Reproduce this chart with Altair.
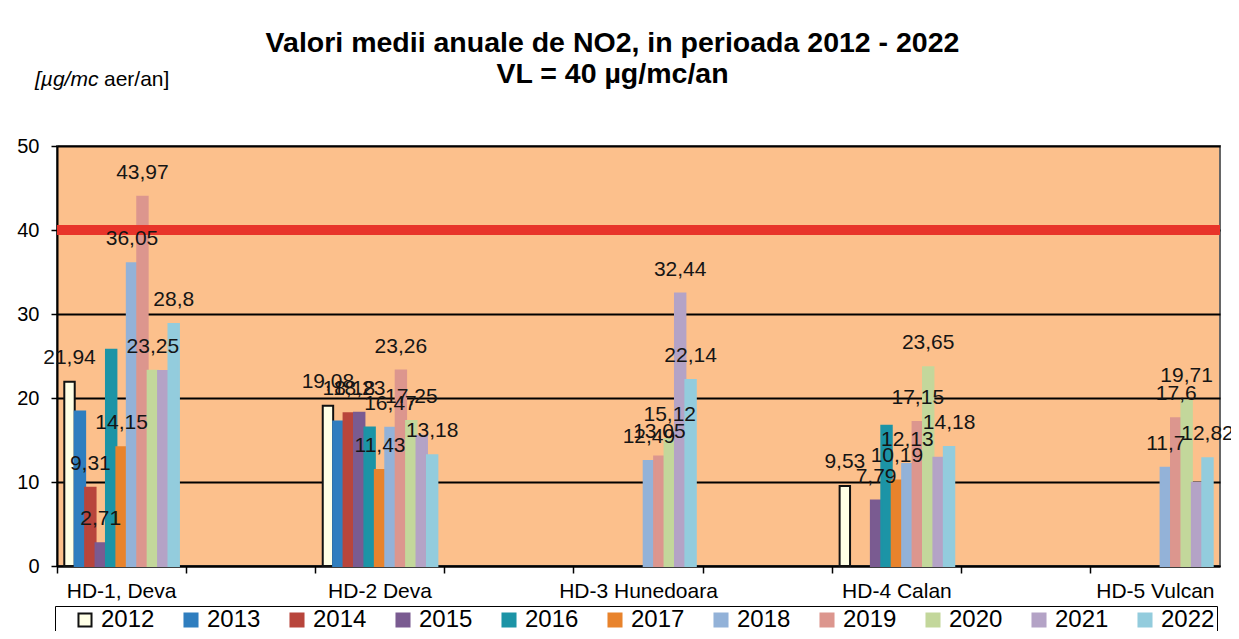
import altair as alt
import pandas as pd

# ---------------- data ----------------
stations = ["HD-1, Deva", "_1", "HD-2 Deva", "_2", "HD-3 Hunedoara", "_3",
            "HD-4 Calan", "_4", "HD-5 Vulcan"]
years = ["2012", "2013", "2014", "2015", "2016", "2017",
         "2018", "2019", "2020", "2021", "2022"]

hd1_values = [21.94, 18.4, 9.31, 2.71, 25.75, 14.15, 36.05, 43.97, 23.25, 23.2, 28.8]
hd1_labeled = [1, 0, 1, 1, 0, 1, 1, 1, 1, 0, 1]
hd2_values = [19.08, 17.2, 18.18, 18.23, 16.5, 11.43, 16.47, 23.26, 17.25, 15.5, 13.18]
hd2_labeled = [1, 0, 1, 1, 0, 1, 1, 1, 1, 0, 1]
hd3_values = [None, None, None, None, None, None, 12.49, 13.05, 15.12, 32.44, 22.14]
hd3_labeled = [0, 0, 0, 0, 0, 0, 1, 1, 1, 1, 1]
hd4_values = [9.53, None, None, 7.79, 16.7, 10.19, 12.13, 17.15, 23.65, 12.9, 14.18]
hd4_labeled = [1, 0, 0, 1, 0, 1, 1, 1, 1, 0, 1]
hd5_values = [None, None, None, None, None, None, 11.7, 17.6, 19.71, 9.9, 12.82]
hd5_labeled = [0, 0, 0, 0, 0, 0, 1, 1, 1, 0, 1]

limit_value = [40]
title_lines = ["Valori medii anuale de NO2, in perioada 2012 - 2022", "VL = 40 µg/mc/an"]
unit_parts = ["[µg/mc", "aer/an]"]

fill_colors = ["#FFFFE6", "#2F7EBF", "#B8453C", "#7A5B91", "#1C94A6", "#E8832C",
               "#93B2D8", "#DC968E", "#C3D79B", "#B4A3C6", "#93CCDD"]
stroke_colors = ["#111111"] + fill_colors[1:]

series = [
    ("HD-1, Deva", hd1_values, hd1_labeled),
    ("HD-2 Deva", hd2_values, hd2_labeled),
    ("HD-3 Hunedoara", hd3_values, hd3_labeled),
    ("HD-4 Calan", hd4_values, hd4_labeled),
    ("HD-5 Vulcan", hd5_values, hd5_labeled),
]

rows = []
for st, vals, flags in series:
    for yr, v, f in zip(years, vals, flags):
        if v is None:
            continue
        rows.append({"station": st, "year": yr, "value": v,
                     "label": (f"{v:g}".replace(".", ",") if f else "")})
df = pd.DataFrame(rows)

FONT = "Liberation Sans"
W, H = 1163, 420

x_enc = alt.X(
    "station:N",
    scale=alt.Scale(domain=stations, paddingInner=0, paddingOuter=0),
    axis=alt.Axis(
        title=None,
        labelExpr="indexof(datum.label, '_') == 0 ? '' : datum.label",
        bandPosition=0,
        labelAngle=0,
        labelFontSize=21,
        labelFont=FONT,
        labelColor="black",
        labelPadding=7,
        labelOverlap=False,
        labelBound=False,
        tickColor="black",
        tickSize=7,
        tickWidth=1.5,
        domainColor="black",
        domainWidth=2,
        grid=False,
    ),
)
xoff_enc = alt.XOffset("year:N", scale=alt.Scale(domain=years, paddingInner=0, paddingOuter=0.7))
y_enc = alt.Y(
    "value:Q",
    scale=alt.Scale(domain=[0, 50], nice=False),
    axis=alt.Axis(
        title=None,
        values=[0, 10, 20, 30, 40, 50],
        labelFontSize=20,
        labelFont=FONT,
        labelColor="black",
        labelPadding=12,
        tickColor="black",
        tickSize=6,
        tickWidth=1.5,
        domainColor="black",
        domainWidth=2,
        grid=True,
        gridColor="black",
        gridWidth=2,
    ),
)

legend = alt.Legend(
    title="0",
    titleOrient="left",
    titleColor="rgba(0,0,0,0)",
    titleFontSize=20,
    titlePadding=4,
    orient="none",
    legendX=-2,
    legendY=460,
    direction="horizontal",
    columns=11,
    symbolType="square",
    symbolSize=170,
    symbolStrokeWidth=2,
    symbolOpacity=1,
    labelFontSize=24,
    labelFont=FONT,
    labelColor="black",
    labelOffset=4,
    columnPadding=24,
    padding=2,
    strokeColor="black",
    fillColor="white",
)

bars = alt.Chart(df).mark_bar(strokeWidth=2, opacity=1).encode(
    x=x_enc,
    xOffset=xoff_enc,
    y=y_enc,
    fill=alt.Fill("year:N", scale=alt.Scale(domain=years, range=fill_colors), legend=legend),
    stroke=alt.Stroke("year:N", scale=alt.Scale(domain=years, range=stroke_colors), legend=legend),
)

limit = alt.Chart(pd.DataFrame({"v": limit_value})).mark_rule(
    color="#E8342A", strokeWidth=10
).encode(y="v:Q")

labels = alt.Chart(df).transform_filter("datum.label != ''").mark_text(
    dy=-24, fontSize=21, font=FONT, color="#151515", baseline="middle", align="center"
).encode(x=x_enc, xOffset=xoff_enc, y=y_enc, text="label:N")

unit1 = alt.Chart(pd.DataFrame({"t": [unit_parts[0]]})).mark_text(
    align="left", baseline="middle", fontSize=21, font=FONT, fontStyle="italic", color="black"
).encode(text="t:N", x=alt.value(-22), y=alt.value(-66))
unit2 = alt.Chart(pd.DataFrame({"t": [unit_parts[1]]})).mark_text(
    align="left", baseline="middle", fontSize=21, font=FONT, color="black"
).encode(text="t:N", x=alt.value(47), y=alt.value(-66))

chart = alt.layer(bars, limit, labels, unit1, unit2).properties(
    width=W,
    height=H,
    title=alt.TitleParams(
        text=title_lines,
        fontSize=28.5,
        fontWeight="bold",
        font=FONT,
        anchor="middle",
        frame="group",
        dx=-26,
        dy=71,
        offset=52,
        lineHeight=31,
        color="black",
    ),
    autosize=alt.AutoSizeParams(type="none"),
    padding={"left": 49, "top": 138, "right": 11, "bottom": 65},
).configure(
    font=FONT, background="white"
).configure_view(
    fill="#FCC08C", stroke="#666666", strokeWidth=2
)

chart.save("out.html", embed_options={"renderer": "svg", "actions": False})
